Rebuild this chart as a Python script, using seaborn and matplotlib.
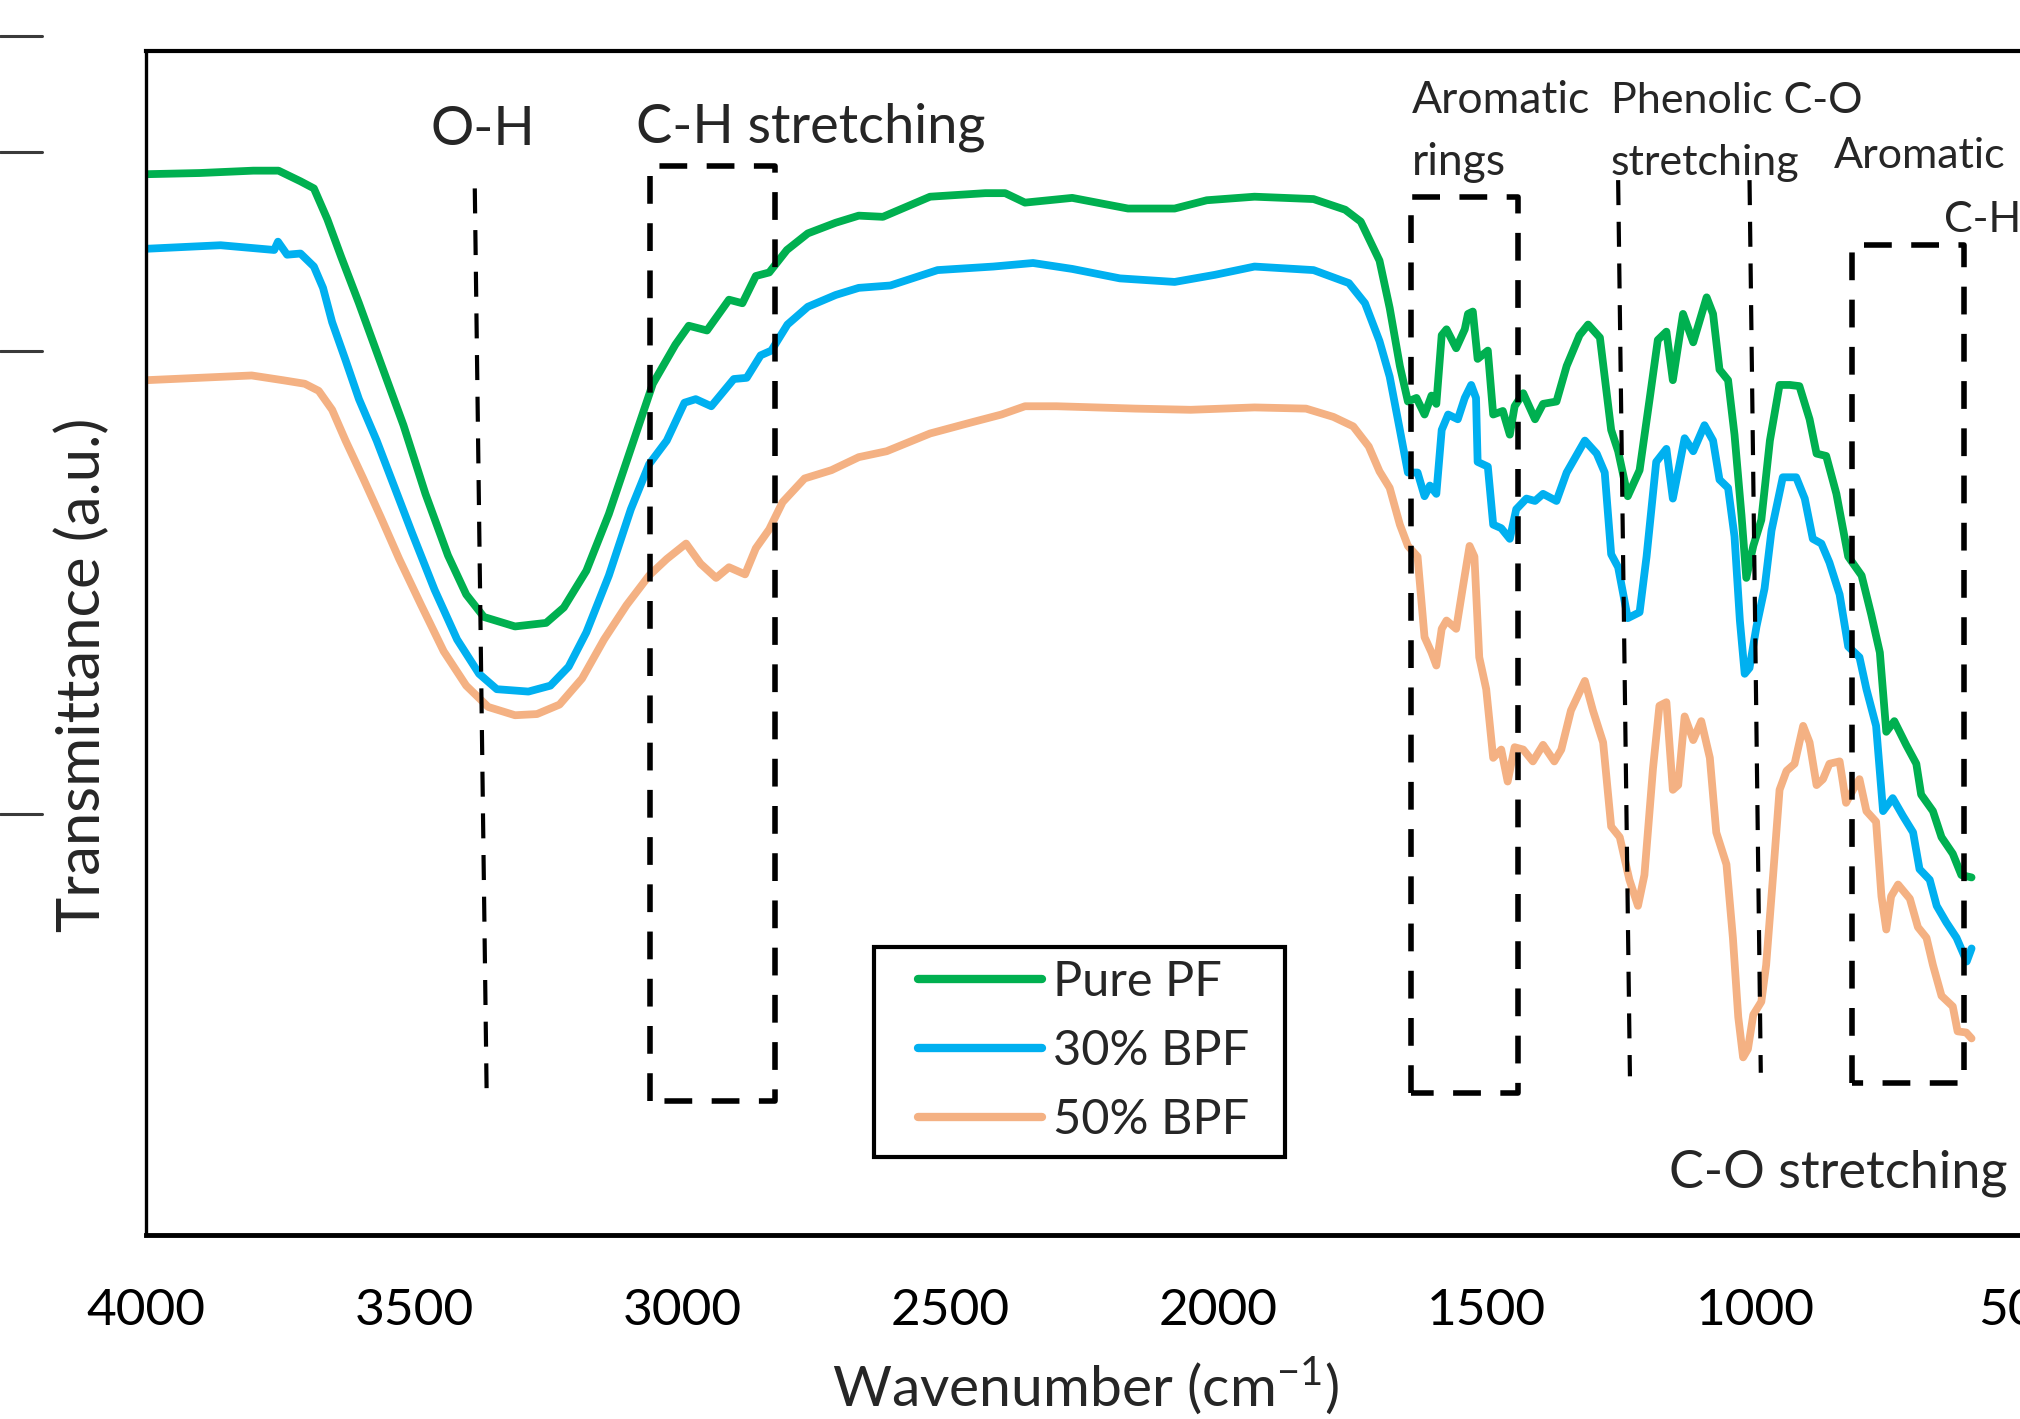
import numpy as np
import pandas as pd
import seaborn as sns
import matplotlib.pyplot as plt
from matplotlib.lines import Line2D
from matplotlib.patches import Rectangle
from matplotlib.ticker import MultipleLocator

# FTIR spectra (wavenumber cm-1, transmittance a.u.)
pf_wn = [4000, 3900, 3800, 3753, 3712, 3687, 3662, 3636, 3603, 3562, 3520, 3479, 3437, 3403, 3370, 3312,
         3254, 3221, 3179, 3137, 3096, 3055, 3013, 2988, 2954, 2913, 2888, 2863, 2838, 2805, 2766, 2714,
         2671, 2626, 2538, 2435, 2398, 2361, 2273, 2169, 2082, 2022, 1933, 1823, 1764, 1735, 1700, 1681,
         1662, 1647, 1631, 1616, 1603, 1594, 1584, 1575, 1557, 1541, 1535, 1526, 1517, 1498, 1488, 1470,
         1457, 1448, 1432, 1410, 1395, 1370, 1351, 1327, 1311, 1289, 1268, 1255, 1237, 1215, 1196, 1181,
         1165, 1153, 1134, 1115, 1090, 1078, 1066, 1050, 1038, 1025, 1016, 1003, 988, 972, 954, 935, 917,
         898, 885, 867, 848, 826, 801, 783, 767, 755, 740, 718, 699, 690, 668, 652, 631, 615, 596]
pf_t = [89.6, 89.7, 89.9, 89.9, 89.0, 88.4, 85.8, 82.6, 78.7, 73.6, 68.4, 62.6, 57.4, 54.1, 52.2, 51.4,
        51.7, 53.0, 56.1, 60.9, 66.4, 71.9, 75.2, 76.8, 76.4, 79.0, 78.7, 81.0, 81.3, 83.2, 84.6, 85.5,
        86.1, 86.0, 87.7, 88.0, 88.0, 87.2, 87.6, 86.7, 86.7, 87.4, 87.7, 87.5, 86.6, 85.6, 82.3, 78.3,
        73.4, 70.4, 70.7, 69.3, 70.9, 70.2, 76.0, 76.5, 74.9, 76.5, 77.8, 78.0, 74.0, 74.7, 69.3, 69.6,
        67.6, 70.0, 71.1, 68.9, 70.2, 70.4, 73.4, 76.0, 76.9, 75.8, 68.0, 66.2, 62.4, 64.6, 70.7, 75.6,
        76.3, 72.2, 77.8, 75.4, 79.2, 77.8, 73.1, 72.2, 67.6, 60.8, 55.5, 58.2, 60.4, 67.1, 71.8, 71.8, 71.7,
        68.9, 66.0, 65.8, 62.6, 57.3, 55.7, 52.4, 49.2, 42.5, 43.4, 41.4, 39.8, 37.2, 35.8, 33.6, 32.2, 30.4, 30.2]

bpf30_wn = [4000, 3861, 3761, 3754, 3737, 3712, 3687, 3670, 3653, 3628, 3603, 3570, 3537, 3504, 3462, 3420,
            3379, 3346, 3287, 3246, 3212, 3179, 3137, 3096, 3062, 3029, 2996, 2975, 2946, 2904, 2880, 2854,
            2834, 2804, 2766, 2714, 2671, 2612, 2524, 2420, 2346, 2273, 2184, 2082, 2007, 1933, 1823, 1757,
            1727, 1700, 1681, 1662, 1647, 1629, 1616, 1606, 1594, 1584, 1572, 1554, 1541, 1529, 1520, 1517,
            1498, 1488, 1473, 1457, 1445, 1426, 1410, 1395, 1370, 1351, 1317, 1295, 1280, 1268, 1255, 1237,
            1215, 1202, 1184, 1165, 1153, 1131, 1115, 1094, 1078, 1066, 1050, 1038, 1028, 1019, 1010, 997,
            982, 969, 948, 923, 907, 892, 876, 861, 842, 826, 805, 792, 774, 761, 743, 724, 705, 693, 674,
            661, 643, 624, 605, 596]
bpf30_t = [83.3, 83.6, 83.2, 83.9, 82.8, 82.9, 81.8, 80.0, 77.1, 73.9, 70.6, 67.1, 63.2, 59.3, 54.5, 50.3,
           47.4, 46.1, 45.9, 46.4, 48.0, 50.9, 55.7, 61.3, 65.1, 67.1, 70.3, 70.6, 70.0, 72.3, 72.4, 74.3,
           74.7, 76.9, 78.4, 79.4, 80.0, 80.2, 81.5, 81.8, 82.1, 81.6, 80.8, 80.5, 81.1, 81.8, 81.5, 80.4,
           78.7, 75.5, 72.5, 68.0, 64.4, 64.4, 62.4, 63.3, 62.6, 68.0, 69.3, 68.9, 70.7, 71.8, 70.7, 65.3,
           64.9, 60.0, 59.7, 58.8, 61.3, 62.2, 62.0, 62.6, 62.0, 64.4, 67.1, 66.0, 64.4, 57.5, 56.4, 52.1,
           52.6, 57.3, 65.3, 66.4, 62.2, 67.3, 66.2, 68.4, 67.1, 63.8, 63.1, 59.0, 51.9, 47.4, 47.9, 51.4,
           54.6, 59.5, 64.0, 64.0, 62.2, 58.8, 58.4, 56.8, 54.1, 49.7, 48.8, 46.1, 43.0, 35.8, 36.9, 35.4,
           34.0, 30.9, 30.0, 27.8, 26.4, 25.1, 23.1, 24.2]

bpf50_wn = [4000, 3803, 3745, 3704, 3678, 3653, 3628, 3595, 3562, 3528, 3487, 3445, 3403, 3362, 3312, 3271,
            3229, 3187, 3146, 3104, 3062, 3029, 2993, 2966, 2937, 2913, 2883, 2863, 2838, 2813, 2772, 2722,
            2671, 2619, 2538, 2464, 2405, 2361, 2302, 2155, 2052, 1933, 1837, 1786, 1749, 1720, 1700, 1681,
            1662, 1647, 1629, 1616, 1603, 1594, 1584, 1575, 1557, 1545, 1532, 1523, 1514, 1501, 1488, 1473,
            1461, 1448, 1432, 1414, 1395, 1374, 1361, 1343, 1317, 1302, 1283, 1268, 1252, 1234, 1218, 1206,
            1190, 1178, 1165, 1153, 1143, 1131, 1115, 1100, 1084, 1072, 1053, 1041, 1031, 1022, 1013, 1003,
            988, 979, 966, 954, 941, 926, 910, 898, 885, 873, 861, 842, 830, 817, 805, 792, 774, 764, 755,
            746, 733, 711, 696, 680, 668, 652, 631, 622, 606, 596]
bpf50_t = [72.2, 72.6, 72.2, 71.9, 71.3, 69.7, 67.1, 63.9, 60.6, 57.1, 53.2, 49.3, 46.4, 44.6, 43.9, 44.0,
           44.8, 47.0, 50.3, 53.2, 55.7, 57.1, 58.4, 56.7, 55.5, 56.4, 55.8, 58.0, 59.6, 61.9, 63.9, 64.6,
           65.7, 66.2, 67.7, 68.6, 69.3, 70.0, 70.0, 69.8, 69.7, 69.9, 69.8, 69.1, 68.3, 66.6, 64.5, 63.1,
           60.0, 58.2, 57.3, 50.5, 49.2, 48.1, 51.2, 51.9, 51.2, 54.6, 58.2, 57.3, 48.8, 46.1, 40.3, 41.0,
           38.3, 41.2, 41.0, 40.0, 41.4, 40.0, 41.0, 44.3, 46.8, 44.3, 41.6, 34.5, 33.6, 30.0, 27.8, 30.4,
           39.4, 44.7, 45.0, 37.6, 38.0, 43.8, 41.8, 43.4, 40.3, 34.0, 31.3, 25.1, 18.4, 15.0, 15.7, 18.6,
           19.7, 22.8, 30.4, 37.6, 39.2, 39.8, 43.0, 41.6, 38.0, 38.5, 39.8, 40.0, 36.5, 37.6, 38.5, 35.8,
           34.9, 28.6, 25.8, 28.6, 29.6, 28.4, 26.0, 25.1, 22.8, 20.2, 19.3, 17.2, 17.1, 16.6]

samples = ["Pure PF", "30% BPF", "50% BPF"]
colors = ["#00B050", "#00B0F0", "#F4B183"]
xticks = [4000, 3500, 3000, 2500, 2000, 1500, 1000, 500]

df = pd.concat([
    pd.DataFrame({"wn": pf_wn, "T": pf_t, "sample": samples[0]}),
    pd.DataFrame({"wn": bpf30_wn, "T": bpf30_t, "sample": samples[1]}),
    pd.DataFrame({"wn": bpf50_wn, "T": bpf50_t, "sample": samples[2]}),
])

sns.set_style("white")
plt.rcParams['font.family'] = ['Lato', 'DejaVu Sans']
plt.rcParams['mathtext.fontset'] = 'custom'
plt.rcParams['mathtext.rm'] = 'Lato'

fig = plt.figure(figsize=(20.2, 14.19), dpi=100)
ax = fig.add_axes([0.0723, 0.1297, 0.9292, 0.8343])

sns.lineplot(data=df, x="wn", y="T", hue="sample", palette=dict(zip(samples, colors)),
             estimator=None, sort=False, lw=5.6, ax=ax, legend=False)

# dashed annotation boxes and lines
for l, r, b, t in [(3060, 2827, 11.3, 90.3), (1642, 1442, 12.0, 87.7), (819, 611, 12.8, 83.6)]:
    ax.plot([l, l, r, r, l], [b, t, t, b, b], ls=(0, (5, 3.5)), color='black', lw=4)
for x0, x1, y0, y1 in [(3387, 3365, 88.4, 12.4), (1255, 1233, 89.1, 13.4), (1010, 989, 89.1, 13.7)]:
    ax.plot([x0, x1], [y0, y1], ls=(0, (6, 4)), color='black', lw=3)

# legend box drawn separately so its padding matches the original
ax.add_patch(Rectangle((874 / 2020, 1 - 1157 / 1419), 411 / 2020, 210 / 1419,
                       transform=fig.transFigure, facecolor='white', edgecolor='black',
                       lw=3, zorder=4, clip_on=False))
handles = [Line2D([], [], color=c, lw=6, solid_capstyle='round') for c in colors]
leg = ax.legend(handles, samples, loc='center left', bbox_to_anchor=(918 / 2020, 1 - 1051 / 1419),
                bbox_transform=fig.transFigure, frameon=False, fontsize=35, handlelength=2.55,
                handletextpad=0.22, labelspacing=0.52, borderpad=0, borderaxespad=0)
leg.set_zorder(5)

ax.set_xlim(4000, 500)
ax.set_ylim(0, 100)
ax.set_xticks(xticks)
ax.set_xticklabels([str(t) for t in xticks])
ax.xaxis.set_minor_locator(MultipleLocator(250))
ax.set_yticks([])
ax.tick_params(axis='x', which='major', direction='inout', length=22, width=1.6,
               labelsize=37, pad=27, colors='black')
ax.tick_params(axis='x', which='minor', direction='in', length=9.5, width=1.6)
ax.spines['top'].set_linewidth(3)
ax.spines['left'].set_linewidth(2.4)
ax.spines['bottom'].set_linewidth(3.5)
ax.spines['right'].set_visible(False)
for s in ax.spines.values():
    s.set_color('black')

ax.set_xlabel("Wavenumber (cm$^{\\mathregular{-1}}$)", fontsize=41)
ax.set_ylabel("Transmittance (a.u.)", fontsize=43)
ax.xaxis.set_label_coords(0.5003, -0.101)
ax.yaxis.set_label_coords(-0.019, 0.473)

ax.text(3372, 92.1, "O-H", fontsize=39, ha='center', va='baseline')
ax.text(3087, 92.3, "C-H stretching", fontsize=39, ha='left', va='baseline')
ax.text(1640, 94.8, "Aromatic", fontsize=32, ha='left', va='baseline')
ax.text(1640, 89.5, "rings", fontsize=32, ha='left', va='baseline')
ax.text(1269, 94.8, "Phenolic C-O", fontsize=31, ha='left', va='baseline')
ax.text(1269, 89.5, "stretching", fontsize=31, ha='left', va='baseline')
ax.text(852, 90.1, "Aromatic", fontsize=31, ha='left', va='baseline')
ax.text(648, 84.7, "C-H", fontsize=31, ha='left', va='baseline')
ax.text(1160, 4.05, "C-O stretching", fontsize=37.5, ha='left', va='baseline')

# stubs of the neighbouring panel at the left edge
for yy in [36, 152, 351, 814]:
    fig.add_artist(Line2D([0, 42 / 2020], [1 - yy / 1419] * 2, transform=fig.transFigure,
                          color='#3a3a3a', lw=2.2))

fig.savefig("out.png", dpi=100)
